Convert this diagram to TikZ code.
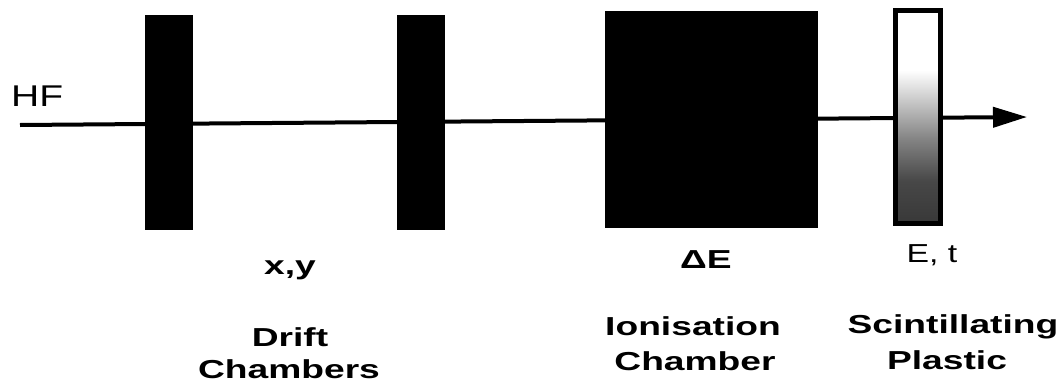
\documentclass[tikz,border=0pt]{standalone}
\usepackage{fontspec}
\setmainfont{Liberation Sans}
\newfontfamily\widefam{Liberation Sans}[FakeStretch=1.43]
\newfontfamily\widereg{Liberation Sans}[FakeStretch=1.3]
\usetikzlibrary{arrows.meta}

% plastic scintillator: clear at the top, darkening towards the bottom
\pgfdeclareverticalshading{scintfade}{100bp}{%
  color(0bp)=(black!78); color(25bp)=(black!78); color(35bp)=(black!72);
  color(45bp)=(black!48); color(55bp)=(black!18); color(61bp)=(white);
  color(100bp)=(white)}

\tikzset{
  detbar/.style={rectangle, fill=black, draw=none, inner sep=0pt, outer sep=0pt,
    minimum width=48pt, minimum height=215pt},
  ionbox/.style={rectangle, fill=black, draw=none, inner sep=0pt, outer sep=0pt,
    minimum width=213pt, minimum height=217pt},
  scintbox/.style={rectangle, draw=black, line width=5pt, shading=scintfade,
    inner sep=0pt, outer sep=0pt, minimum width=45pt, minimum height=213pt},
  beam/.style={line width=4pt, -{Triangle[length=34pt,width=20pt]}},
  boldlabel/.style={inner sep=0pt, align=center,
    font=\widefam\bfseries\fontsize{26}{31}\selectfont},
  plainlabel/.style={inner sep=0pt, font=\widereg\fontsize{26}{31}\selectfont},
}

\begin{document}
\begin{tikzpicture}[x=1pt, y=-1pt]
  \useasboundingbox (0,0) rectangle (1057,386);

  % beam line
  \coordinate (src) at (20,125);
  \coordinate (dst) at (1027,117);
  \draw[beam] (src) -- (dst);

  % detectors along the beam
  \node[detbar]   (dc1)  at (169,122.5) {};
  \node[detbar]   (dc2)  at (421,122.5) {};
  \node[ionbox]   (ion)  at (711.5,119.5) {};
  \node[scintbox] (scint) at (918,117) {};

  % beam label
  \node[inner sep=0pt, anchor=west, font=\widereg\fontsize{30}{34}\selectfont]
    (hf) at (11,96) {HF};

  % measured quantities
  \node[boldlabel]  (xy) at (290,270) {x,y};
  \node[boldlabel]  (de) at (706,260) {ΔE};
  \node[plainlabel] (et) at (932,255) {E, t};

  % detector names
  \node[boldlabel] (drift)  at (290,337) {Drift};
  \node[boldlabel] (dcname) at (289,369) {Chambers};
  \node[boldlabel] (ionis)  at (693,326) {Ionisation};
  \node[boldlabel] (icname) at (695,361) {Chamber};
  \node[boldlabel] (scin)   at (953,327) {Scintillating};
  \node[boldlabel] (plast)  at (947,360) {Plastic};
\end{tikzpicture}
\end{document}
